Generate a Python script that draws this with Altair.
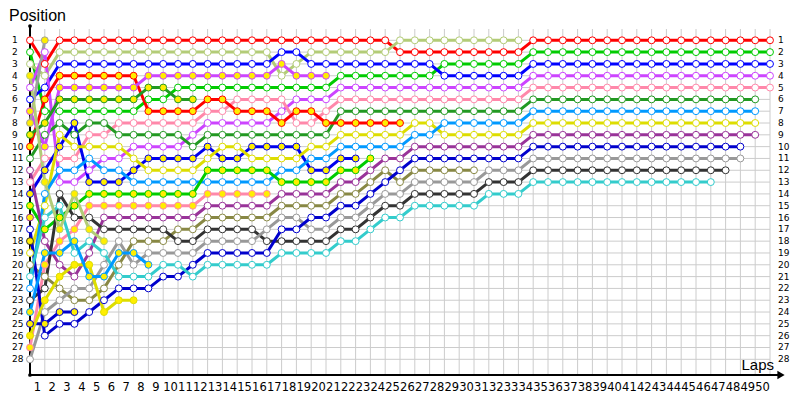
import altair as alt
import pandas as pd

# ---------------- data (positions per lap, lap 0 = grid) ----------------
laps_labels = list(range(1, 51))
positions = list(range(1, 29))

# driver: (line colour, yellow-filled markers?)
driver_style = {
    "R1": ("#ff0000", False), "R2": ("#ff0000", True),
    "LO1": ("#b3cc77", False), "GrY": ("#a0a0a0", True),
    "B": ("#0000ff", False), "BY": ("#0000ee", True),
    "G": ("#00cc00", False), "GY": ("#00cc00", True),
    "DG": ("#229922", False), "DGY": ("#229922", True),
    "V": ("#cc44ff", False), "VY": ("#cc44ff", True),
    "P": ("#ff88aa", False), "PY": ("#ff88aa", True),
    "Az": ("#0099ff", False), "AzY": ("#0099ff", True),
    "Y": ("#dddd00", False), "YY": ("#dddd00", True),
    "Pu": ("#993399", False), "PuY": ("#993399", True),
    "N": ("#0000cc", False), "NY": ("#0000cc", True),
    "Gr": ("#999999", False), "DkG": ("#333333", False),
    "C": ("#33cccc", False), "Ol": ("#888844", False),
    "X1": ("#b3cc77", True), "X2": ("#333333", True),
}

R1 = [1, 3, 1, 1, 1, 1, 1, 1, 1, 1, 1, 1, 1, 1, 1, 1, 1, 1, 1, 1, 1, 1, 1, 1, 1,
      2, 2, 2, 2, 2, 2, 2, 2, 2,
      1, 1, 1, 1, 1, 1, 1, 1, 1, 1, 1, 1, 1, 1, 1, 1, 1]
G = [2, 7, 7, 7, 7, 7, 7, 7, 6, 6, 5, 5, 5, 5, 5, 5, 5, 5, 5, 5, 5,
     4, 4, 4, 4, 4, 4, 4, 3, 3, 3, 3, 3, 3,
     2, 2, 2, 2, 2, 2, 2, 2, 2, 2, 2, 2, 2, 2, 2, 2, 2]
LO1 = [3, 4, 2, 2, 2, 2, 2, 2, 2, 2, 2, 2, 2, 2, 2, 2, 2, 4, 3, 2, 2, 2, 2, 2, 2,
       1, 1, 1, 1, 1, 1, 1, 1, 1]
B = [6, 5, 3, 3, 3, 3, 3, 3, 3, 3, 3, 3, 3, 3, 3, 3, 3, 2, 2, 3, 3, 3, 3, 3, 3, 3, 3, 3,
     4, 4, 4, 4, 4, 4,
     3, 3, 3, 3, 3, 3, 3, 3, 3, 3, 3, 3, 3, 3, 3, 3, 3]
V = [5, 2, 13, 13, 12, 11, 11, 10, 10, 10, 10, 9, 8, 8, 8, 8, 8, 7, 6, 6, 6,
     5, 5, 5, 5, 5, 5, 5, 5, 5, 5, 5, 5, 5,
     4, 4, 4, 4, 4, 4, 4, 4, 4, 4, 4, 4, 4, 4, 4, 4, 4]
P = [13, 11, 11, 11, 9, 9, 8, 8, 8, 8, 8, 8, 7, 7, 6, 6, 6, 6, 8, 8, 7,
     6, 6, 6, 6, 6, 6, 6, 6, 6, 6, 6, 6, 6,
     5, 5, 5, 5, 5, 5, 5, 5, 5, 5, 5, 5, 5, 5, 5, 5, 5]
DG = [11, 9, 8, 9, 8, 8, 9, 9, 9, 9, 9, 10, 9, 9, 9, 9, 9, 9, 9, 9, 9,
      7, 7, 7, 7, 7, 7, 7, 7, 7, 7, 7, 7, 7,
      6, 6, 6, 6, 6, 6, 6, 6, 6, 6, 6, 6, 6, 6, 6, 6]
R2 = [10, 6, 4, 4, 4, 4, 4, 4, 7, 7, 7, 7, 6, 6, 7, 7, 7, 8, 7, 7, 8, 8, 8, 8, 8, 8]
VY = [7, 10, 5, 5, 5, 5, 5, 5, 4, 4, 4, 4, 4, 4, 4, 4, 4, 3, 4, 4, 4]
DGY = [9, 8, 6, 6, 6, 6, 6, 6, 5, 5, 6, 6]
BY = [14, 12, 10, 8, 13, 13, 13, 12, 11, 11, 11, 11, 10, 11, 11, 10, 10, 10, 10, 12, 12, 11, 11]
Y = [19, 15, 9, 10, 10, 10, 10, 11, 12, 12, 12, 12, 11, 10, 10, 11, 11, 11, 11, 10, 10,
     9, 9, 9, 9, 9, 8, 8, 9, 9, 9, 9, 9, 9,
     8, 8, 8, 8, 8, 8, 8, 8, 8, 8, 8, 8, 8, 8, 8, 8]
Az = [22, 14, 12, 12, 11, 12, 12, 13, 13, 13, 13, 13, 13, 13, 13, 13, 13, 12, 12, 11, 11,
      10, 10, 10, 10, 10, 9, 9, 8, 8, 8, 8, 8, 8,
      7, 7, 7, 7, 7, 7, 7, 7, 7, 7, 7, 7, 7, 7, 7, 7]
GY = [15, 17, 16, 15, 14, 14, 14, 14, 14, 14, 14, 14, 12, 12, 12, 12, 12, 13, 13, 13, 13, 12, 12, 11]
PY = [27, 20, 18, 17, 15, 15, 15, 15, 15, 15, 15, 15, 14, 14, 14, 14, 14]
Pu = [12, 18, 20, 21, 19, 16, 16, 16, 16, 16, 16, 16, 15, 15, 15, 15, 15, 14, 14, 14, 14,
      13, 13, 12, 11, 11, 10, 10, 10, 10, 10, 10, 10, 10,
      9, 9, 9, 9, 9, 9, 9, 9, 9, 9, 9, 9, 9, 9, 9, 9]
Ol = [20, 21, 22, 23, 23, 22, 20, 18, 18, 18, 17, 17, 16, 16, 16, 16, 16, 15, 15, 15, 15,
      14, 14, 13, 12, 13, 12, 12, 12, 12, 12]
DkG = [23, 22, 14, 16, 16, 17, 17, 17, 17, 17, 18, 18, 17, 17, 17, 17, 18, 18, 18, 18, 18,
       17, 17, 16, 15, 15, 14, 14, 14, 14, 14, 13, 13, 13,
       12, 12, 12, 12, 12, 12, 12, 12, 12, 12, 12, 12, 12, 12]
Gr = [28, 24, 23, 22, 22, 20, 18, 20, 19, 19, 19, 19, 18, 18, 18, 18, 17, 16, 16, 17, 17,
      16, 16, 15, 14, 14, 13, 13, 13, 13, 13, 12, 12, 12,
      11, 11, 11, 11, 11, 11, 11, 11, 11, 11, 11, 11, 11, 11, 11]
N = [17, 26, 25, 25, 24, 23, 22, 22, 22, 21, 21, 20, 19, 19, 19, 19, 19, 17, 17, 16, 16,
     15, 15, 14, 13, 12, 11, 11, 11, 11, 11, 11, 11, 11,
     10, 10, 10, 10, 10, 10, 10, 10, 10, 10, 10, 10, 10, 10, 10]
C = [21, 16, 15, 19, 18, 19, 21, 21, 21, 20, 20, 21, 20, 20, 20, 20, 20, 19, 19, 19, 19,
     18, 18, 17, 16, 16, 15, 15, 15, 15, 15, 14, 14, 14,
     13, 13, 13, 13, 13, 13, 13, 13, 13, 13, 13, 13, 13]
NY = [25, 25, 24, 24]
YY = [26, 23, 21, 20, 20, 24, 23, 23]
AzY = [24, 19, 19, 18, 21, 21, 19, 19, 20]
GrY = [8, 1]
PuY = [16]
X1 = [4, 13, 17, 14, 17, 18]
X2 = [18]

series = {
    "R1": R1, "G": G, "LO1": LO1, "B": B, "V": V, "P": P, "DG": DG, "R2": R2,
    "VY": VY, "DGY": DGY, "BY": BY, "Y": Y, "Az": Az, "GY": GY, "PY": PY,
    "Pu": Pu, "Ol": Ol, "DkG": DkG, "Gr": Gr, "N": N, "C": C, "NY": NY,
    "YY": YY, "AzY": AzY, "GrY": GrY, "PuY": PuY, "X1": X1, "X2": X2,
}

# ---------------- geometry ----------------
W, H = 784, 390
X0, DX = 22.0, 14.8          # svg x of lap 0, px per lap
Y0, DY = 32.3, 11.815        # svg y of position 1, px per position
xdom = [-X0 / DX, (W - X0) / DX]
ydom = [1 - Y0 / DY, 1 + (H - Y0) / DY]


def px2lap(px):
    return (px - 8 - X0) / DX


def py2pos(py):
    return 1 + (py - 8 - Y0) / DY


AX_BOTTOM = py2pos(375)
AX_TOP = py2pos(26)
GRID_TOP = py2pos(29)


def X(f="lap"):
    return alt.X(f"{f}:Q", scale=alt.Scale(domain=xdom, nice=False, zero=False), axis=None)


def Yc(f="pos"):
    return alt.Y(f"{f}:Q", scale=alt.Scale(domain=ydom, nice=False, zero=False, reverse=True),
                 axis=None)


rows = []
for d, vals in series.items():
    col, yel = driver_style[d]
    for lap, p in enumerate(vals):
        rows.append({"driver": d, "lap": lap, "pos": p, "stroke": col,
                     "fill": "#ffee00" if yel else "#ffffff"})
df = pd.DataFrame(rows)

vgrid = pd.DataFrame({"lap": list(range(0, 51)), "y1": GRID_TOP, "y2": AX_BOTTOM})
hgrid = pd.DataFrame({"pos": positions, "x1": 0.0, "x2": 50.0})

vg = alt.Chart(vgrid).mark_rule(color="#cccccc", strokeWidth=1).encode(
    x=X(), y=Yc("y1"), y2="y2:Q")
hg = alt.Chart(hgrid).mark_rule(color="#cccccc", strokeWidth=1).encode(
    x=X("x1"), x2="x2:Q", y=Yc())

yax = alt.Chart(pd.DataFrame({"lap": [0.0], "y1": [AX_TOP], "y2": [AX_BOTTOM]})).mark_rule(
    color="#000000", strokeWidth=2).encode(x=X(), y=Yc("y1"), y2="y2:Q")
xax = alt.Chart(pd.DataFrame({"x1": [0.0], "x2": [px2lap(780)], "pos": [AX_BOTTOM]})).mark_rule(
    color="#000000", strokeWidth=2).encode(x=X("x1"), x2="x2:Q", y=Yc())
dots = alt.Chart(pd.DataFrame({"lap": [0.0, 0.0], "pos": [AX_TOP, AX_BOTTOM]})).mark_point(
    shape="circle", filled=True, color="#000000", size=14, opacity=1).encode(x=X(), y=Yc())
arrow = alt.Chart(pd.DataFrame({"lap": [px2lap(781)], "pos": [AX_BOTTOM]})).mark_point(
    shape="triangle-right", filled=True, color="#000000", size=70, opacity=1).encode(x=X(), y=Yc())

lines = alt.Chart(df).mark_line(strokeWidth=3, strokeJoin="round").encode(
    x=X(), y=Yc(), detail="driver:N", order="lap:Q",
    color=alt.Color("stroke:N", scale=None))
pts = alt.Chart(df).mark_point(shape="circle", filled=True, size=48, strokeWidth=1, opacity=1).encode(
    x=X(), y=Yc(),
    fill=alt.Fill("fill:N", scale=None),
    stroke=alt.Stroke("stroke:N", scale=None))

ylab_l_df = pd.DataFrame({"pos": positions, "lap": px2lap(12), "t": [str(p) for p in positions]})
ylab_r_df = pd.DataFrame({"pos": positions, "lap": px2lap(778), "t": [str(p) for p in positions]})
ylab_l = alt.Chart(ylab_l_df).mark_text(align="left", baseline="middle", font="DejaVu Sans",
                                        fontSize=9, color="#000000").encode(x=X(), y=Yc(), text="t:N")
ylab_r = alt.Chart(ylab_r_df).mark_text(align="left", baseline="middle", font="DejaVu Sans",
                                        fontSize=9, color="#000000").encode(x=X(), y=Yc(), text="t:N")
xlab_df = pd.DataFrame({"lap": [k - 0.5 for k in laps_labels], "pos": py2pos(387.5),
                        "t": [str(k) for k in laps_labels]})
xlab_t = alt.Chart(xlab_df).mark_text(align="center", baseline="middle", font="DejaVu Sans",
                                      fontSize=11.5, color="#000000").encode(x=X(), y=Yc(), text="t:N")

t1 = alt.Chart(pd.DataFrame({"lap": [px2lap(9)], "pos": [py2pos(20.5)], "t": ["Position"]})).mark_text(
    align="left", baseline="alphabetic", font="Liberation Sans", fontSize=16, color="#000000").encode(
    x=X(), y=Yc(), text="t:N")
t2 = alt.Chart(pd.DataFrame({"lap": [px2lap(774)], "pos": [py2pos(369.5)], "t": ["Laps"]})).mark_text(
    align="right", baseline="alphabetic", font="Liberation Sans", fontSize=15, color="#000000").encode(
    x=X(), y=Yc(), text="t:N")

chart = alt.layer(vg, hg, yax, xax, dots, arrow, lines, pts, ylab_l, ylab_r, xlab_t, t1, t2).properties(
    width=W, height=H, autosize=alt.AutoSizeParams(type="none"), padding=0,
    background="#ffffff"
).configure_view(strokeWidth=0)

chart.save("out.html", embed_options={"renderer": "svg", "actions": False})
